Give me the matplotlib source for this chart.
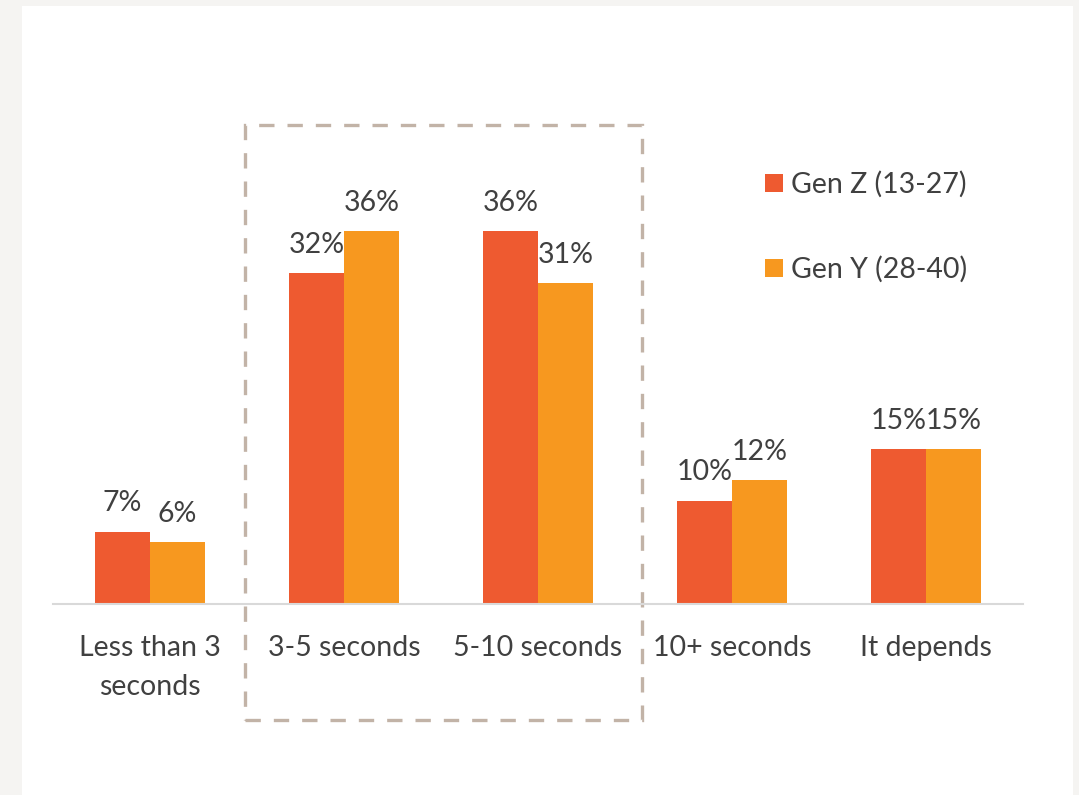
import matplotlib
matplotlib.use("Agg")
import matplotlib.pyplot as plt
from matplotlib.patches import Rectangle
import numpy as np

categories = ["Less than 3\nseconds", "3-5 seconds", "5-10 seconds", "10+ seconds", "It depends"]
gen_z = [7, 32, 36, 10, 15]
gen_y = [6, 36, 31, 12, 15]
series_names = ["Gen Z (13-27)", "Gen Y (28-40)"]

COL_Z = "#EE5A30"
COL_Y = "#F7981F"
TEXT = "#404040"
FONT = "Lato"
FS = 20.5

W, H, DPI = 1079, 795, 100
fig = plt.figure(figsize=(W / DPI, H / DPI), dpi=DPI, facecolor="#F5F4F2")

# white card behind the chart
fig.patches.append(Rectangle((22 / W, 0), 1051 / W, (H - 6) / H,
                             transform=fig.transFigure, facecolor="white",
                             edgecolor="none", zorder=-5))

px_per_pct = 10.35
ax_left, ax_right = 53, 1023
ax_base, ax_top = 604, 100
ax = fig.add_axes([ax_left / W, (H - ax_base) / H,
                   (ax_right - ax_left) / W, (ax_base - ax_top) / H])
ax.set_facecolor("none")
ax.set_ylim(0, (ax_base - ax_top) / px_per_pct)
ax.set_xlim(-0.5, len(categories) - 0.5)

x = np.arange(len(categories))
bw = 0.2835
bz = ax.bar(x - bw / 2, gen_z, bw, color=COL_Z, label=series_names[0], zorder=2)
by = ax.bar(x + bw / 2, gen_y, bw, color=COL_Y, label=series_names[1], zorder=2)

for bars, vals in ((bz, gen_z), (by, gen_y)):
    for b, v in zip(bars, vals):
        ax.annotate(f"{v}%", (b.get_x() + b.get_width() / 2, v),
                    xytext=(0, 14.5), textcoords="offset points",
                    ha="center", va="baseline", fontsize=FS, family=FONT,
                    color=TEXT)

for s in ["top", "right", "left"]:
    ax.spines[s].set_visible(False)
ax.spines["bottom"].set_color("#D9D9D9")
ax.spines["bottom"].set_linewidth(1.5)
ax.set_yticks([])
ax.set_xticks(x)
ax.set_xticklabels(categories, fontsize=FS, family=FONT, color=TEXT,
                   linespacing=1.62)
ax.tick_params(axis="x", length=0, pad=22)

# dashed highlight around the middle two groups
box = Rectangle((0.49, -11.2), 2.536 - 0.49, 46.3 + 11.2, fill=False,
                edgecolor="#C2B3A7", linewidth=2.4, clip_on=False, zorder=1)
box.set_linestyle((0, (4.6, 3.9)))
ax.add_patch(box)

leg = ax.legend(loc="upper left",
                bbox_to_anchor=((765 - ax_left) / (ax_right - ax_left),
                                (ax_base - 171) / (ax_base - ax_top)),
                frameon=False, prop={"family": FONT, "size": FS},
                handlelength=0.62, handleheight=0.62, handletextpad=0.3,
                labelspacing=2.05, borderaxespad=0, borderpad=0)
for t in leg.get_texts():
    t.set_color(TEXT)

fig.savefig("out.png", dpi=DPI, facecolor=fig.get_facecolor())
